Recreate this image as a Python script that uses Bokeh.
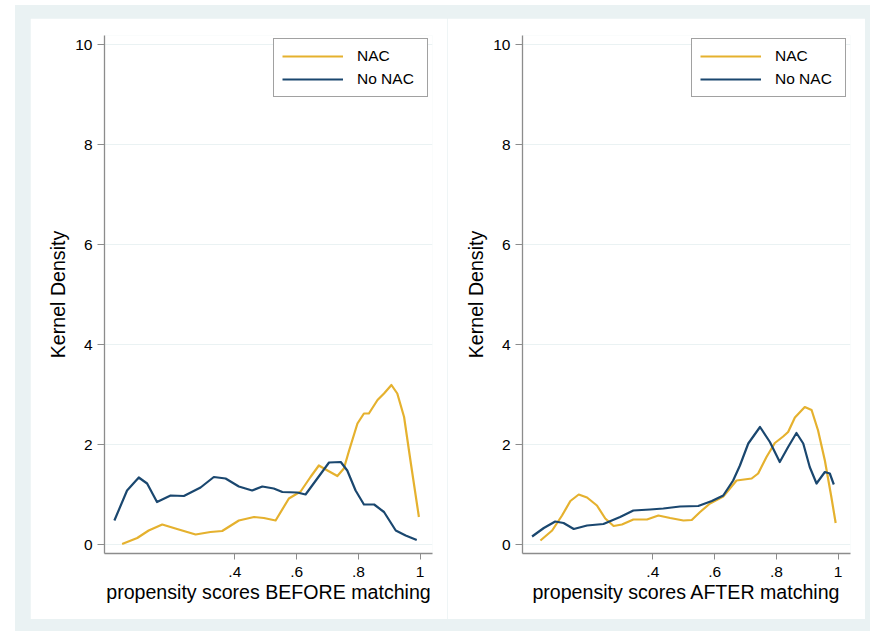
from bokeh.plotting import figure
from bokeh.layouts import row, column
from bokeh.models import Spacer, FixedTicker, Range1d, Legend, LegendItem
from bokeh.embed import file_html
from bokeh.resources import INLINE

# ---------------- data ----------------
x_ticks = [0.4, 0.6, 0.8, 1.0]
x_tick_labels = [".4", ".6", ".8", "1"]
y_ticks = [0, 2, 4, 6, 8, 10]

series_names = ["NAC", "No NAC"]

# BEFORE matching
before_nac_x = [0.035, 0.084, 0.121, 0.165, 0.213, 0.273, 0.321, 0.359, 0.413, 0.462,
                0.494, 0.532, 0.575, 0.613, 0.645, 0.672, 0.700, 0.732, 0.753, 0.770,
                0.797, 0.818, 0.834, 0.862, 0.883, 0.907, 0.926, 0.948, 0.970, 0.996]
before_nac_y = [0.01, 0.13, 0.28, 0.40, 0.31, 0.20, 0.25, 0.27, 0.48, 0.55,
                0.53, 0.48, 0.92, 1.06, 1.35, 1.58, 1.48, 1.37, 1.52, 1.88,
                2.42, 2.62, 2.62, 2.89, 3.02, 3.19, 3.02, 2.55, 1.62, 0.55]

before_nonac_x = [0.010, 0.051, 0.089, 0.116, 0.148, 0.192, 0.235, 0.289, 0.332, 0.370,
                  0.413, 0.456, 0.489, 0.526, 0.554, 0.602, 0.629, 0.667, 0.705, 0.743,
                  0.764, 0.791, 0.818, 0.851, 0.883, 0.921, 0.953, 0.989]
before_nonac_y = [0.48, 1.08, 1.34, 1.22, 0.85, 0.98, 0.97, 1.14, 1.35, 1.32,
                  1.16, 1.08, 1.16, 1.12, 1.05, 1.04, 1.00, 1.32, 1.64, 1.65,
                  1.48, 1.08, 0.80, 0.80, 0.65, 0.28, 0.18, 0.09]

# AFTER matching
after_nac_x = [0.036, 0.074, 0.106, 0.133, 0.160, 0.187, 0.219, 0.246, 0.273, 0.300,
               0.337, 0.381, 0.418, 0.456, 0.499, 0.526, 0.553, 0.585, 0.628, 0.671,
               0.720, 0.741, 0.768, 0.795, 0.822, 0.838, 0.860, 0.892, 0.914, 0.935,
               0.957, 0.978, 0.992]
after_nac_y = [0.08, 0.28, 0.58, 0.87, 1.00, 0.94, 0.78, 0.52, 0.37, 0.40,
               0.50, 0.50, 0.58, 0.53, 0.48, 0.49, 0.65, 0.82, 0.96, 1.28,
               1.32, 1.42, 1.75, 2.03, 2.16, 2.25, 2.54, 2.75, 2.69, 2.28,
               1.68, 0.95, 0.43]

after_nonac_x = [0.009, 0.047, 0.084, 0.111, 0.144, 0.187, 0.240, 0.294, 0.337, 0.391,
                 0.434, 0.488, 0.547, 0.591, 0.628, 0.660, 0.682, 0.709, 0.747, 0.779,
                 0.811, 0.838, 0.865, 0.887, 0.908, 0.930, 0.957, 0.973, 0.986]
after_nonac_y = [0.16, 0.33, 0.46, 0.43, 0.31, 0.38, 0.41, 0.55, 0.68, 0.70,
                 0.72, 0.76, 0.77, 0.87, 0.98, 1.28, 1.58, 2.02, 2.35, 2.05,
                 1.65, 1.95, 2.23, 2.02, 1.55, 1.22, 1.45, 1.42, 1.20]

GOLD = "#E5B12E"
NAVY = "#1A476F"
FONT = "Liberation Sans"
BG = "#EAF2F3"

PANEL_H = 601


def make_panel(title_x, nac_x, nac_y, nonac_x, nonac_y, width, border_left, border_right):
    p = figure(width=width, height=PANEL_H, output_backend="svg", toolbar_location=None,
               x_range=Range1d(-0.022, 1.04), y_range=Range1d(-0.18, 10.18),
               min_border_left=border_left, min_border_right=border_right,
               min_border_top=17, min_border_bottom=66)
    p.background_fill_color = "white"
    p.border_fill_color = "white"
    p.outline_line_color = None

    r1 = p.line(nac_x, nac_y, line_color=GOLD, line_width=2.2, line_join="round")
    r2 = p.line(nonac_x, nonac_y, line_color=NAVY, line_width=2.2, line_join="round")

    # axes
    p.xaxis.ticker = FixedTicker(ticks=x_ticks)
    p.xaxis.major_label_overrides = {t: l for t, l in zip(x_ticks, x_tick_labels)}
    p.xaxis.minor_tick_line_color = None
    p.xaxis.axis_label = title_x
    p.yaxis.ticker = FixedTicker(ticks=y_ticks)
    p.yaxis.minor_tick_line_color = None
    p.yaxis.axis_label = "Kernel Density"

    for ax in (p.xaxis, p.yaxis):
        ax.axis_line_color = "#8c8c8c"
        ax.axis_line_width = 1.3
        ax.major_tick_line_color = "#8c8c8c"
        ax.major_tick_in = 0
        ax.major_label_text_font = FONT
        ax.major_label_text_font_size = "15.5px"
        ax.major_label_text_color = "black"
        ax.axis_label_text_font = FONT
        ax.axis_label_text_font_size = "19.6px"
        ax.axis_label_text_font_style = "normal"
        ax.axis_label_text_color = "black"
    p.xaxis.major_tick_out = 6
    p.xaxis.major_label_standoff = 7
    p.xaxis.axis_label_standoff = 1
    p.yaxis.major_tick_out = 7
    p.yaxis.major_label_standoff = 5
    p.yaxis.axis_label_standoff = 3

    p.xgrid.grid_line_color = None
    p.ygrid.grid_line_color = BG
    p.ygrid.grid_line_width = 1.2

    legend = Legend(items=[LegendItem(label=series_names[0], renderers=[r1]),
                           LegendItem(label=series_names[1], renderers=[r2])],
                    location=(169, 456))
    legend.padding = 8
    legend.spacing = 5
    legend.margin = 0
    legend.glyph_width = 61
    legend.glyph_height = 18
    legend.label_height = 18
    legend.label_width = 62
    legend.label_standoff = 14
    legend.label_text_font = FONT
    legend.label_text_font_size = "15.5px"
    legend.label_text_color = "black"
    legend.border_line_color = "#444444"
    legend.border_line_width = 1
    legend.background_fill_color = "white"
    legend.background_fill_alpha = 1
    p.add_layout(legend, "center")
    return p


p1 = make_panel("propensity scores BEFORE matching", before_nac_x, before_nac_y,
                before_nonac_x, before_nonac_y, 417, 74, 15)
p2 = make_panel("propensity scores AFTER matching", after_nac_x, after_nac_y,
                after_nonac_x, after_nonac_y, 418, 75, 15)

inner = column(
    Spacer(width=855, height=13),
    row(Spacer(width=15, height=PANEL_H), p1, p2, Spacer(width=5, height=PANEL_H), spacing=0),
    Spacer(width=855, height=12),
    spacing=0,
    styles={"background-color": BG},
)

layout = column(
    Spacer(width=870, height=5),
    row(Spacer(width=15, height=631 - 5), inner, spacing=0),
    spacing=0,
)

open("out.html", "w").write(file_html(layout, INLINE))
